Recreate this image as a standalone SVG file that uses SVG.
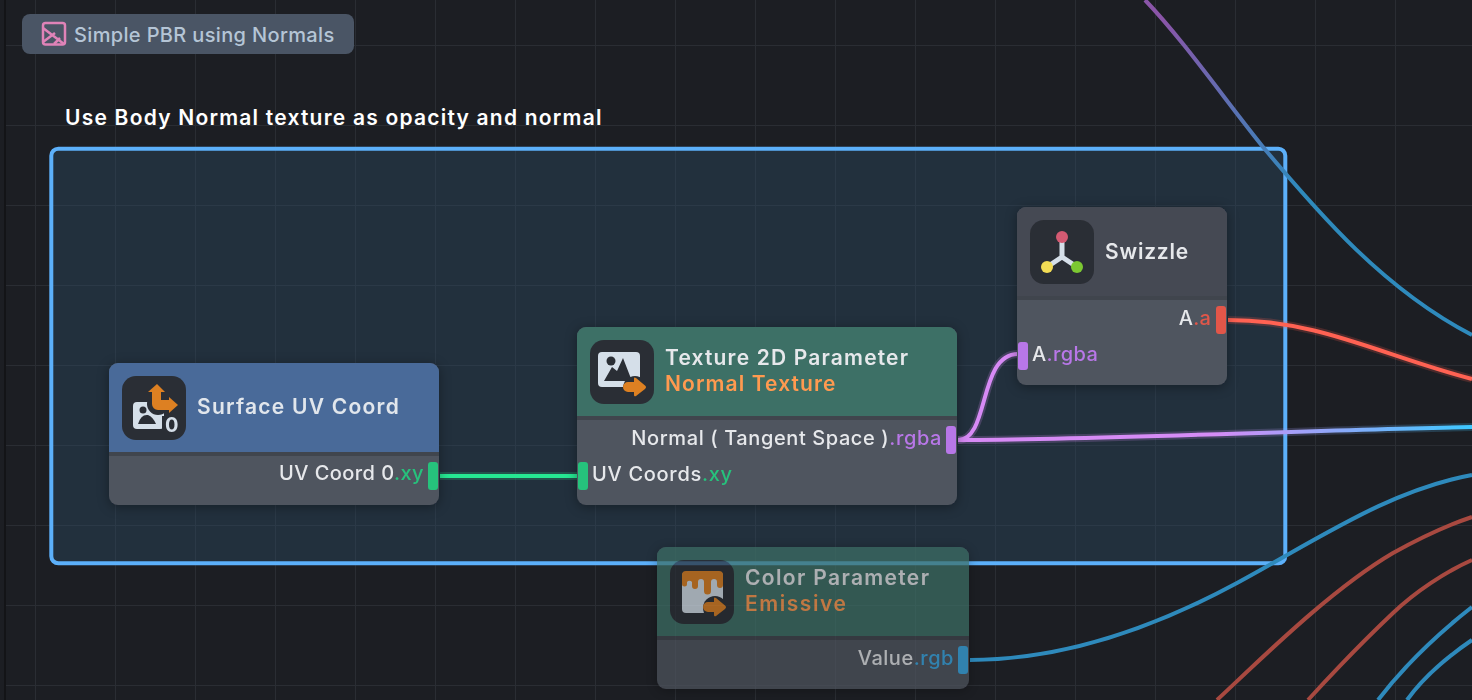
<svg xmlns="http://www.w3.org/2000/svg" width="1472" height="700" viewBox="0 0 1472 700">
<style>
text{font-family:"Inter","Liberation Sans",sans-serif;font-weight:500;font-size:20px;fill:#e6e8eb}
.h{font-size:21px;font-weight:600}
.sub{fill:#ff9a50}
.r{text-anchor:end}
.g{fill:#26c27c}.p{fill:#b877e8}.o{fill:#e2574a}.b{fill:#3aa9e6}
.body{fill:#50555f}.sep{fill:#3f444e}
.ib{fill:#2b2e35}
.lt{fill:#d5dfe9}
.ar{fill:#dd8020}
.grid{stroke:#2a2d33;stroke-width:1}
.glow{fill:none;stroke-width:8;opacity:.2}
.core{fill:none;stroke-width:4}
.thin{fill:none;stroke-width:4}
</style>
<defs>
<filter id="sh" x="-15%" y="-15%" width="130%" height="130%"><feDropShadow dx="0" dy="2" stdDeviation="6" flood-color="#000" flood-opacity=".35"/></filter>
<filter id="soft" filterUnits="userSpaceOnUse" x="0" y="0" width="1472" height="700"><feGaussianBlur stdDeviation=".5"/></filter>
<linearGradient id="gTop" gradientUnits="userSpaceOnUse" x1="1160" y1="20" x2="1300" y2="190"><stop offset="0" stop-color="#8a55a8"/><stop offset="1" stop-color="#2f8abc"/></linearGradient>
<linearGradient id="gMain" gradientUnits="userSpaceOnUse" x1="958" y1="440" x2="1472" y2="427"><stop offset="0" stop-color="#d78af5"/><stop offset=".5" stop-color="#d58cf5"/><stop offset="1" stop-color="#3cc8ff"/></linearGradient>
</defs>
<rect width="1472" height="700" fill="#1c1e23"/>
<rect x="4" y="0" width="2" height="700" fill="#131417"/>
<g id="grid" class="grid">
<path d="M35.500 0V700M115.500 0V700M195.500 0V700M275.500 0V700M355.500 0V700M435.500 0V700M515.500 0V700M595.500 0V700M675.500 0V700M755.500 0V700M835.500 0V700M915.500 0V700M995.500 0V700M1075.500 0V700M1155.500 0V700M1235.500 0V700M1315.500 0V700M1395.500 0V700M6 45.500H1472M6 125.500H1472M6 205.500H1472M6 285.500H1472M6 365.500H1472M6 445.500H1472M6 525.500H1472M6 605.500H1472M6 685.500H1472"/>
</g>
<g id="badge">
<rect x="22" y="14" width="332" height="40" rx="8" fill="#4a5565"/>
<g fill="none" stroke="#e083b8" stroke-width="2.500">
<rect x="43" y="23" width="22" height="21.500" rx="2.500"/>
<path d="M43 28L64 44M43 42L55 33M54 44L60 38"/>
</g>
<text x="74" y="42" style="fill:#b5c5d6;letter-spacing:.35px">Simple PBR using Normals</text>
</g>
<g id="comment">
<text class="h" x="65" y="125" style="fill:#fff;letter-spacing:1.22px">Use Body Normal texture as opacity and normal</text>
<rect x="51.300" y="148.700" width="1234" height="414.600" rx="7" fill="#2f4f6c" fill-opacity=".36" stroke="#5cb0fa" stroke-width="4"/>
</g>
<g id="connectors" filter="url(#soft)">
<path class="thin" stroke="url(#gTop)" d="M1145 0C1185 42 1225 100 1263 147C1320 215 1385 290 1472 335"/>
<path class="glow" stroke="#ff5a4c" d="M1228 320C1320 320 1380 355 1472 379"/>
<path class="core" stroke="#ff6252" d="M1228 320C1320 320 1380 355 1472 379"/>
<path class="glow" stroke="#22e08c" d="M440 476H577"/>
<path class="core" stroke="#26e892" d="M440 476H577"/>
<path class="glow" stroke="#d78af5" d="M958 440C990 440 978 354 1018 354"/>
<path class="core" stroke="#d78af5" d="M958 440C990 440 978 354 1018 354"/>
<path class="glow" stroke="url(#gMain)" d="M958 440C1100 440 1300 430 1472 427"/>
<path class="core" stroke="url(#gMain)" d="M958 440C1100 440 1300 430 1472 427"/>
<path class="thin" stroke="#2f8abc" d="M970 660C1060 660 1150 630 1237 583C1320 538 1390 490 1472 475"/>
<path class="thin" stroke="#a84a40" d="M1217 700C1260 660 1330 590 1393 553C1420 538 1445 526 1472 517"/>
<path class="thin" stroke="#a84a40" d="M1308 700C1340 665 1375 630 1393 613C1415 592 1445 572 1472 560"/>
<path class="thin" stroke="#2f8abc" d="M1378 700C1405 665 1440 632 1472 607"/>
<path class="thin" stroke="#2f8abc" d="M1407 700C1425 675 1450 655 1472 640"/>
</g>
<g id="node-surface-uv" filter="url(#sh)">
<rect class="body" x="109" y="363" width="330" height="142" rx="9"/>
<path fill="#4a6b99" d="M118 363H430a9 9 0 0 1 9 9V452H109V372a9 9 0 0 1 9-9Z"/>
<rect class="sep" x="109" y="452" width="330" height="4"/>
<rect class="ib" x="122" y="376" width="64" height="64" rx="14"/>
<rect class="lt" x="133" y="402" width="31" height="27" rx="4"/>
<circle cx="158" cy="404" r="11" fill="#2b2e35"/>
<rect x="162" y="416" width="14" height="16" fill="#2b2e35"/>
<circle cx="143" cy="410" r="3.500" fill="#2b2e35"/>
<path d="M138 424Q141 414 148 415Q153 417 156 424Z" fill="#2b2e35"/>
<path class="ar" d="M157 384L165 392H161V400H169V397L178 405L169 413V410H158A6 6 0 0 1 152 404V392H148Z"/>
<text x="165" y="432" style="fill:#d5dfe9;font-weight:700;letter-spacing:0">0</text>
<text class="h" x="197" y="414" style="fill:#e1e6ec;letter-spacing:1.25px">Surface UV Coord</text>
<text class="r" x="424" y="480" style="letter-spacing:.43px">UV Coord 0<tspan class="g">.xy</tspan></text>
<rect class="g" x="428" y="462" width="10" height="28" rx="3"/>
</g>
<g id="node-texture2d" filter="url(#sh)">
<rect class="body" x="577" y="327" width="380" height="178" rx="9"/>
<path fill="#3d6f66" d="M586 327H948a9 9 0 0 1 9 9V416H577V336a9 9 0 0 1 9-9Z"/>
<rect class="sep" x="577" y="416" width="380" height="4"/>
<rect class="ib" x="590" y="340" width="64" height="64" rx="14"/>
<rect class="lt" x="598" y="352" width="42" height="35" rx="4"/>
<circle cx="611" cy="361" r="4.500" fill="#2b2e35"/>
<path d="M604 381L612 367L617 371L623 358L630 376L632 381Z" fill="#2b2e35"/>
<circle cx="635" cy="388" r="12" fill="#2b2e35"/>
<path class="ar" d="M634 381V378.500Q634 377 636 378L645 385.500Q647 387 645 389L636 396Q634 397 634 395V392H628A5 5 0 0 1 628 382H634Z"/>
<text class="h" x="665" y="365" style="letter-spacing:1.17px">Texture 2D Parameter</text>
<text class="h sub" x="665" y="391" style="letter-spacing:1.1px">Normal Texture</text>
<text class="r" x="942" y="445" style="letter-spacing:.6px">Normal ( Tangent Space )<tspan class="p">.rgba</tspan></text>
<rect class="p" x="946" y="426" width="10" height="28" rx="3"/>
<rect class="g" x="578" y="462" width="10" height="28" rx="3"/>
<text x="592" y="481" style="letter-spacing:.7px">UV Coords<tspan class="g">.xy</tspan></text>
</g>
<g id="node-swizzle" filter="url(#sh)">
<rect class="body" x="1017" y="207" width="210" height="178" rx="9"/>
<path fill="#454853" d="M1026 207H1218a9 9 0 0 1 9 9V296H1017V216a9 9 0 0 1 9-9Z"/>
<rect class="sep" x="1017" y="296" width="210" height="4"/>
<rect class="ib" x="1030" y="220" width="64" height="64" rx="14"/>
<path d="M1062 237V257L1047 267M1062 257L1077 267" fill="none" stroke="#d5dfe9" stroke-width="5"/>
<circle cx="1062" cy="237" r="6" fill="#d45a72"/>
<circle cx="1047" cy="267" r="6" fill="#f2dc55"/>
<circle cx="1077" cy="267" r="6" fill="#7bc832"/>
<text class="h" x="1105" y="259" style="letter-spacing:.8px">Swizzle</text>
<text class="r" x="1211" y="325" style="letter-spacing:.2px">A<tspan class="o">.a</tspan></text>
<rect class="o" x="1216" y="306" width="10" height="28" rx="3"/>
<rect class="p" x="1018" y="342" width="10" height="28" rx="3"/>
<text x="1032" y="361" style="letter-spacing:.4px">A<tspan class="p">.rgba</tspan></text>
</g>
<g id="node-color" filter="url(#sh)" opacity=".72">
<rect class="body" x="657" y="547" width="312" height="142" rx="9"/>
<path fill="#3d6f66" d="M666 547H960a9 9 0 0 1 9 9V636H657V556a9 9 0 0 1 9-9Z"/>
<rect class="sep" x="657" y="636" width="312" height="4"/>
<rect class="ib" x="670" y="560" width="64" height="64" rx="14"/>
<rect class="lt" x="682" y="572" width="41" height="41" rx="4"/>
<path class="ar" d="M686 571H719A4 4 0 0 1 723 575V585A3 3 0 0 1 717 585V582A3 3 0 0 0 711 582V591A3.500 3.500 0 0 1 704 591V582A3 3 0 0 0 698 582V586A3 3 0 0 1 692 586V582A3 3 0 0 0 687 582V584A2.500 2.500 0 0 1 682 584V575A4 4 0 0 1 686 571Z"/>
<circle cx="715" cy="608" r="12" fill="#2b2e35"/>
<path class="ar" d="M714 601V598.500Q714 597 716 598L725 605.500Q727 607 725 609L716 616Q714 617 714 615V612H708A5 5 0 0 1 708 602H714Z"/>
<text class="h" x="745" y="585" style="letter-spacing:1.35px">Color Parameter</text>
<text class="h sub" x="745" y="611" style="letter-spacing:1.55px">Emissive</text>
<text class="r" x="954" y="665" style="letter-spacing:.53px">Value<tspan class="b">.rgb</tspan></text>
<rect class="b" x="958" y="646" width="10" height="28" rx="3"/>
</g>
</svg>
